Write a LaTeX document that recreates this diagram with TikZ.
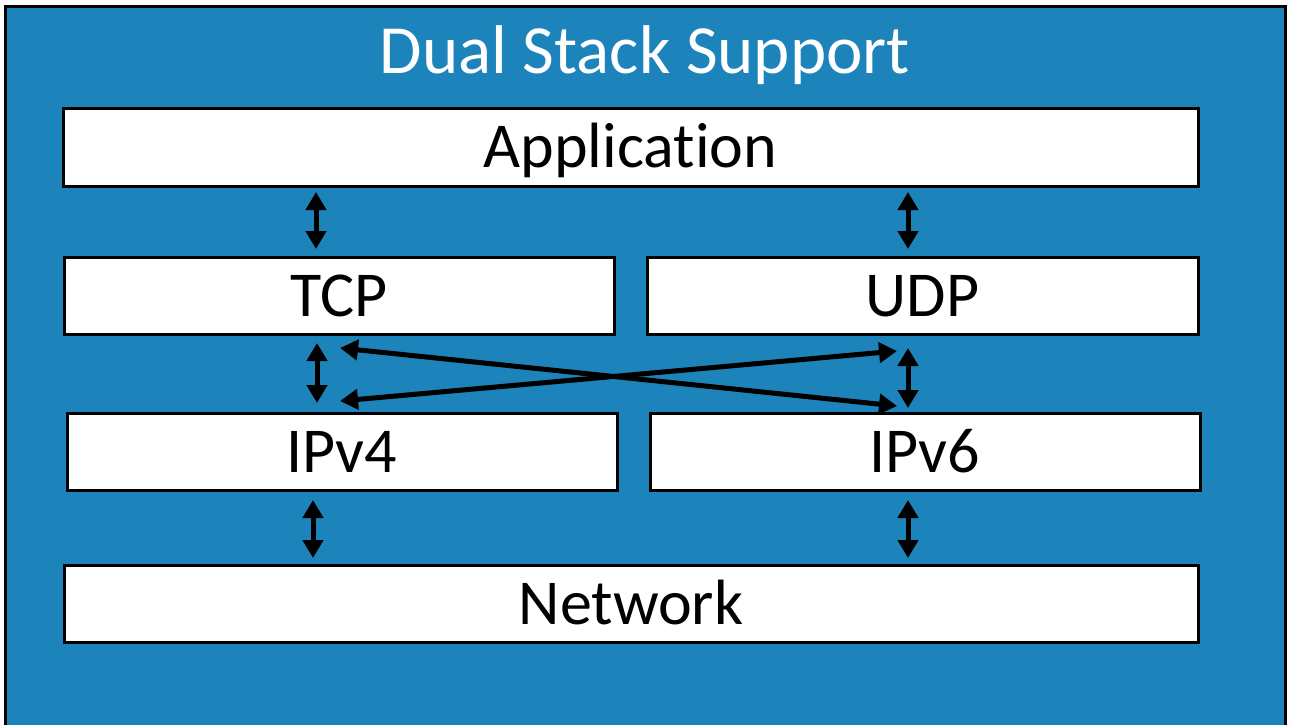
\documentclass[tikz,border=0pt]{standalone}
\usepackage{fontspec}
\setmainfont{Carlito}[Ligatures=NoCommon]
\usetikzlibrary{arrows.meta}
\definecolor{bgblue}{RGB}{29,131,187}
\tikzset{
  layer/.style={draw=black, line width=3pt, fill=white, inner sep=0pt, font=\fontsize{64}{70}\selectfont, text height=41pt, text depth=0pt},
  biarrow/.style={line width=5pt, {Triangle[width=20pt,length=18pt]}-{Triangle[width=20pt,length=18pt]}},
}
\begin{document}
\begin{tikzpicture}[x=1pt,y=-1pt]
\useasboundingbox (0,0) rectangle (1292,724);
\fill[white] (0,0) rectangle (1292,724);
\draw[line width=3pt, fill=bgblue] (5.5,6.5) -- (5.5,740) -- (1285.5,740) -- (1285.5,6.5) -- cycle;
\node[text=white, font=\fontsize{69}{75}\selectfont, inner sep=0pt, text height=44pt, text depth=0pt] (title) at (645,51) {Dual Stack Support};
\node[layer, minimum width=1135pt, minimum height=78pt] (app) at (630.5,147) {Application};
\node[layer, minimum width=550pt, minimum height=77pt] (tcp) at (339,295.5) {TCP};
\node[layer, minimum width=551pt, minimum height=77pt] (udp) at (922.5,295.5) {UDP};
\node[layer, minimum width=550pt, minimum height=77pt] (ipv4) at (342,451.5) {IPv4};
\node[layer, minimum width=550pt, minimum height=77pt] (ipv6) at (925,451.5) {IPv6};
\node[layer, minimum width=1134pt, minimum height=77pt] (net) at (631,603.5) {Network};
% vertical arrows
\coordinate (a1) at (316,192); \coordinate (a2) at (316,249);
\coordinate (b1) at (908,192); \coordinate (b2) at (908,249);
\coordinate (c1) at (317,343); \coordinate (c2) at (317,403);
\coordinate (d1) at (908,348); \coordinate (d2) at (908,408);
\coordinate (e1) at (313,500); \coordinate (e2) at (313,558);
\coordinate (f1) at (908,500); \coordinate (f2) at (908,558);
\draw[biarrow] (a1) -- (a2);
\draw[biarrow] (b1) -- (b2);
\draw[biarrow] (c1) -- (c2);
\draw[biarrow] (d1) -- (d2);
\draw[biarrow] (e1) -- (e2);
\draw[biarrow] (f1) -- (f2);
% crossed arrows
\coordinate (x1) at (340,348); \coordinate (x2) at (897,406);
\coordinate (y1) at (340,401); \coordinate (y2) at (897,351);
\draw[biarrow] (x1) -- (x2);
\draw[biarrow] (y1) -- (y2);
\end{tikzpicture}
\end{document}
